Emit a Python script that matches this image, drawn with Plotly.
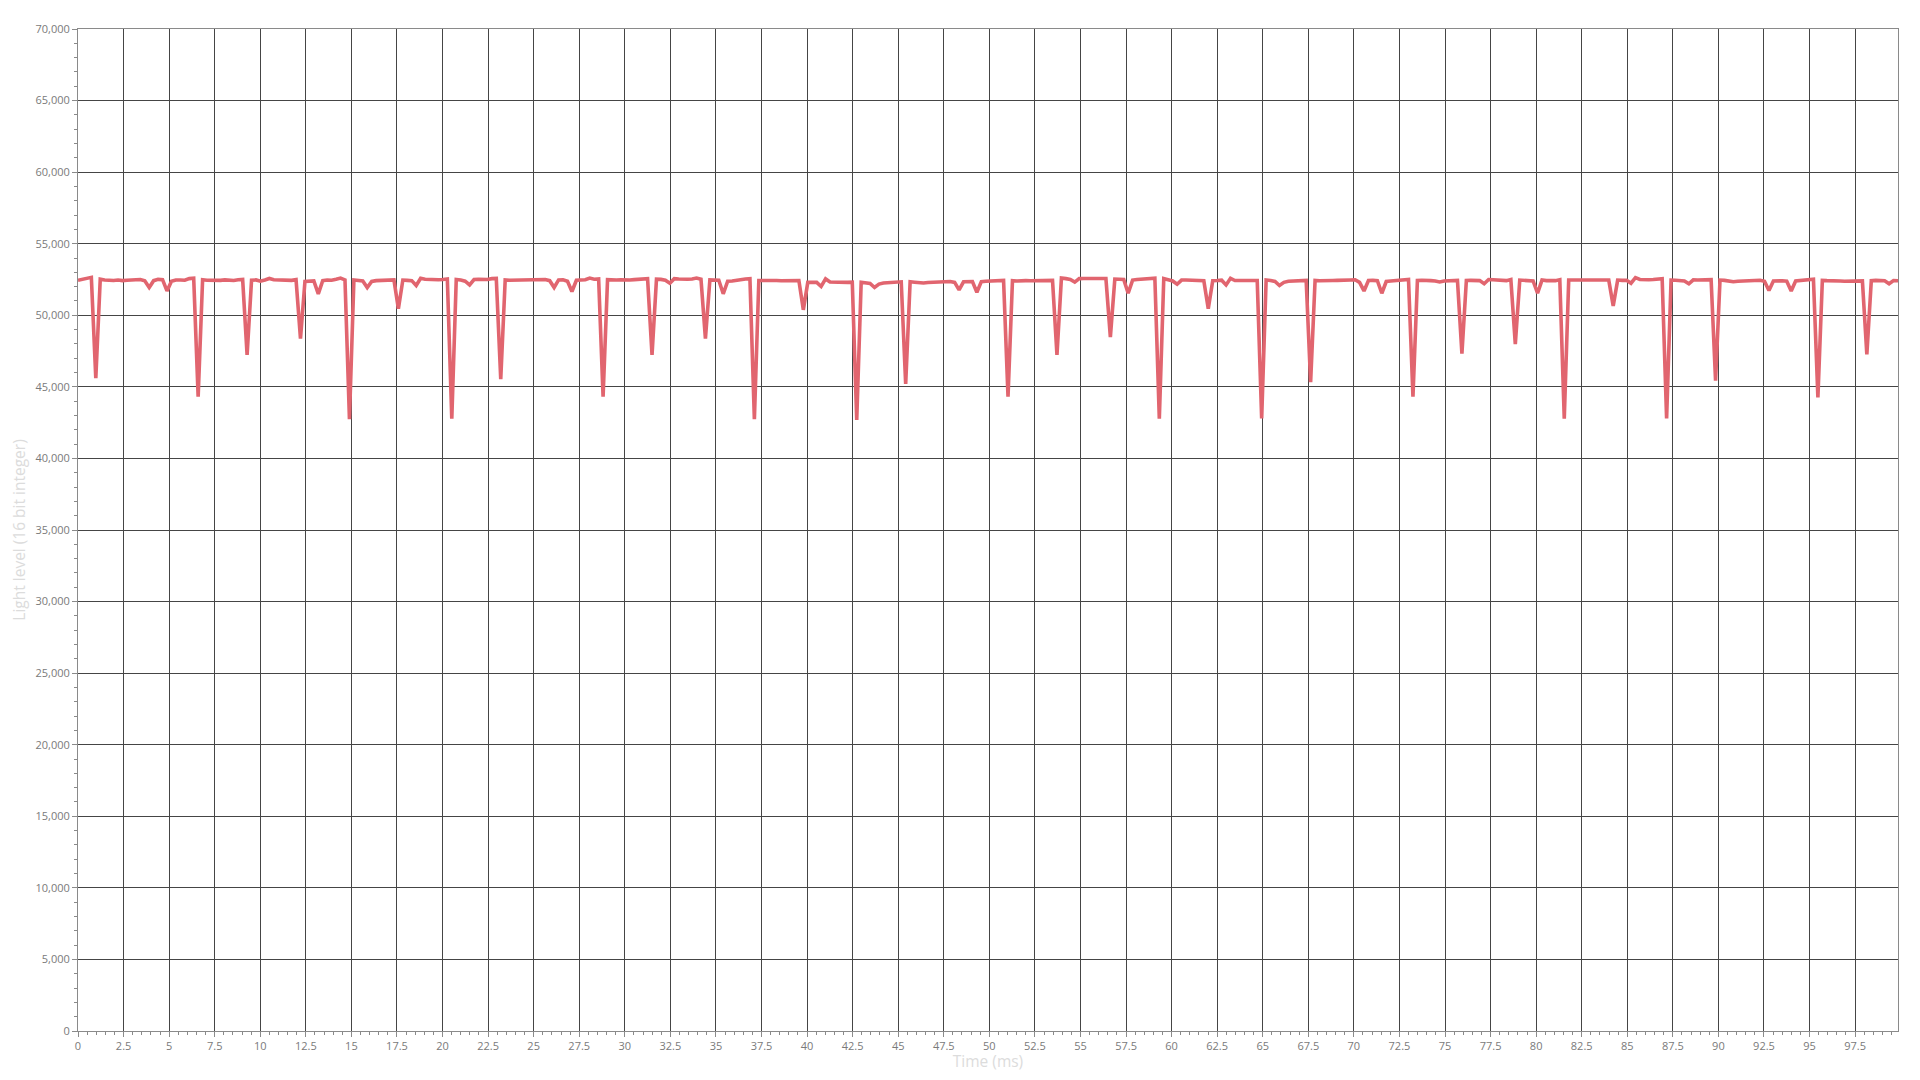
import plotly.graph_objects as go

# Sampling interval of the light sensor (4096 Hz)
sample_interval_ms = 1 / 4.096

# Light level readings (16 bit integer), one per sample
light_level = [
    52450, 52520, 52610, 52650, 45600, 52520, 52470, 52440, 52430, 52460,
    52420, 52450, 52480, 52470, 52500, 52410, 51940, 52420, 52510, 52490,
    51700, 52380, 52460, 52470, 52450, 52560, 52590, 44320, 52480, 52450,
    52430, 52460, 52440, 52470, 52450, 52430, 52480, 52500, 47230, 52450,
    52470, 52380, 52470, 52570, 52480, 52460, 52450, 52470, 52440, 52490,
    48370, 52370, 52380, 52400, 51500, 52420, 52460, 52450, 52520, 52600,
    52470, 42740, 52460, 52450, 52400, 51940, 52360, 52420, 52430, 52410,
    52450, 52470, 50450, 52460, 52440, 52420, 52080, 52590, 52520, 52490,
    52470, 52480, 52500, 52540, 42780, 52500, 52460, 52380, 52120, 52500,
    52520, 52480, 52500, 52560, 52580, 45530, 52470, 52450, 52460, 52480,
    52450, 52470, 52490, 52460, 52480, 52500, 52420, 51940, 52470, 52480,
    52380, 51660, 52450, 52470, 52480, 52600, 52520, 52540, 44320, 52490,
    52460, 52470, 52480, 52460, 52470, 52490, 52500, 52520, 52560, 47230,
    52520, 52510, 52450, 52240, 52560, 52540, 52500, 52520, 52540, 52600,
    52520, 48370, 52470, 52460, 52450, 51500, 52380, 52400, 52460, 52520,
    52540, 52560, 42740, 52430, 52440, 52420, 52440, 52430, 52410, 52420,
    52400, 52420, 52430, 50380, 52300, 52310, 52300, 52010, 52540, 52320,
    52300, 52290, 52310, 52300, 52320, 42690, 52310, 52270, 52220, 51940,
    52180, 52260, 52280, 52300, 52320, 52340, 45200, 52340, 52310, 52270,
    52260, 52290, 52300, 52320, 52340, 52350, 52360, 52300, 51780, 52340,
    52360, 52350, 51610, 52350, 52380, 52400, 52420, 52460, 52440, 44320,
    52420, 52400, 52430, 52420, 52410, 52420, 52440, 52420, 52430, 52440,
    47230, 52600, 52560, 52500, 52320, 52560, 52570, 52560, 52580, 52570,
    52580, 52570, 48470, 52530, 52520, 52500, 51540, 52460, 52500, 52510,
    52540, 52570, 52590, 42780, 52560, 52480, 52400, 52170, 52460, 52470,
    52450, 52440, 52450, 52420, 50450, 52420, 52430, 52450, 52120, 52580,
    52430, 52420, 52430, 52410, 52420, 52430, 42800, 52470, 52430, 52360,
    52080, 52300, 52380, 52400, 52420, 52430, 52440, 45320, 52430, 52410,
    52400, 52420, 52430, 52440, 52430, 52450, 52470, 52480, 52300, 51700,
    52430, 52440, 52420, 51540, 52360, 52400, 52420, 52450, 52480, 52500,
    44320, 52430, 52450, 52460, 52420, 52400, 52330, 52400, 52420, 52430,
    52440, 47320, 52430, 52440, 52430, 52420, 52200, 52500, 52480, 52460,
    52440, 52420, 52500, 47980, 52460, 52440, 52430, 52400, 51540, 52460,
    52420, 52400, 52420, 52490, 42780, 52460, 52470, 52480, 52460, 52470,
    52480, 52470, 52460, 52480, 52460, 50660, 52460, 52440, 52450, 52240,
    52630, 52500, 52460, 52480, 52500, 52540, 52560, 42800, 52460, 52450,
    52420, 52400, 52200, 52480, 52470, 52480, 52470, 52490, 45440, 52460,
    52440, 52380, 52340, 52380, 52400, 52420, 52440, 52430, 52450, 52380,
    51730, 52400, 52420, 52410, 52380, 51700, 52400, 52420, 52460, 52480,
    52520, 44270, 52440, 52420, 52430, 52410, 52400, 52380, 52370, 52360,
    52380, 52400, 47270, 52420, 52440, 52430, 52410, 52200, 52420, 52410,
]

time_ms = [i * sample_interval_ms for i in range(len(light_level))]

x_title = "Time (ms)"
y_title = "Light level (16 bit integer)"

FONT = "Open Sans, Segoe UI, Noto Sans, sans-serif"
GRID = "#454545"
AXIS = "#8a8a8a"
LABEL = "#7a7a7a"
TITLE = "#dcdcdc"

fig = go.Figure(
    go.Scatter(
        x=time_ms,
        y=light_level,
        mode="lines",
        line=dict(color="#e1656f", width=3.6),
        hoverinfo="x+y",
    )
)

# the page body has an 8px margin, so the figure is sized and offset to fit
fig.update_layout(
    width=1904,
    height=1064,
    margin=dict(l=70, r=14, t=21, b=41, autoexpand=False),
    paper_bgcolor="white",
    plot_bgcolor="white",
    showlegend=False,
    font=dict(family=FONT, size=11, color=LABEL),
)

fig.update_xaxes(
    range=[0, time_ms[-1]],
    dtick=2.5,
    tick0=0,
    showgrid=True,
    gridcolor=GRID,
    gridwidth=1,
    zeroline=False,
    showline=True,
    linecolor=AXIS,
    linewidth=1,
    mirror=True,
    ticks="outside",
    ticklen=5,
    tickcolor=AXIS,
    tickfont=dict(family=FONT, size=11, color=LABEL),
    minor=dict(dtick=0.5, ticklen=3, tickcolor=AXIS, showgrid=False, ticks="outside"),
    title=dict(text=x_title, font=dict(family=FONT, size=15.5, color=TITLE), standoff=3),
    automargin=False,
)

fig.update_yaxes(
    range=[0, 70000],
    dtick=5000,
    tick0=0,
    tickformat=",d",
    showgrid=True,
    gridcolor=GRID,
    gridwidth=1,
    zeroline=False,
    showline=True,
    linecolor=AXIS,
    linewidth=1,
    mirror=True,
    ticks="outside",
    ticklen=5,
    tickcolor=AXIS,
    tickfont=dict(family=FONT, size=11, color=LABEL),
    minor=dict(dtick=1000, ticklen=3, tickcolor=AXIS, showgrid=False, ticks="outside"),
    title=dict(text=y_title, font=dict(family=FONT, size=15.5, color=TITLE), standoff=7),
    automargin=False,
)

fig.write_html("out.html")
